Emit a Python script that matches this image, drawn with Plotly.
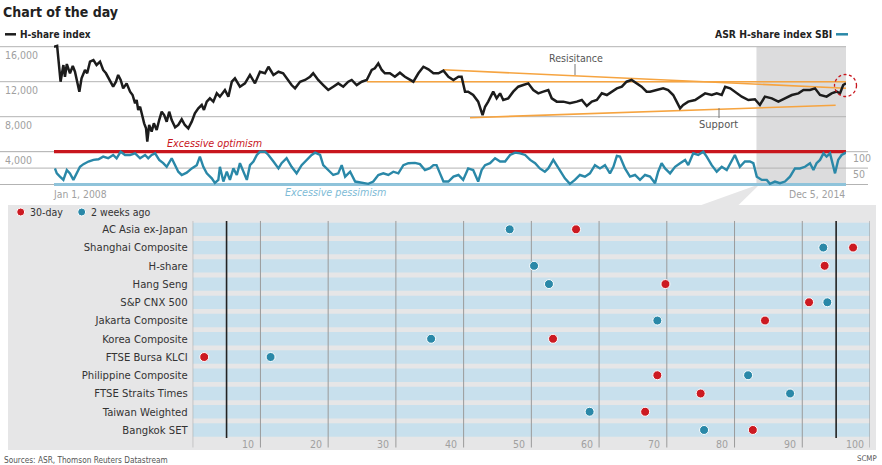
import pandas as pd
import plotly.graph_objects as go

# ---------------- DATA ----------------
start_date = "2008-01-01"
end_date = "2014-12-05"

# H-share index, days since Jan 1, 2008 and index level
hshare_days = [0,10,21,30,35,41,51,60,67,74,
               81,88,99,106,115,126,136,147,157,166,
               179,189,198,205,213,221,232,243,251,259,
               264,269,275,283,288,294,298,304,312,319,
               328,336,344,352,360,368,376,387,397,408,
               418,429,440,450,461,472,479,488,498,509,
               520,530,546,557,568,578,594,610,626,642,
               658,674,685,701,717,732,743,759,770,786,
               802,818,828,844,860,876,892,908,924,940,
               951,967,983,999,1015,1025,1036,1047,1057,1073,
               1089,1105,1121,1137,1148,1164,1180,1196,1212,1228,
               1244,1260,1276,1292,1302,1313,1323,1339,1355,1369,
               1377,1387,1403,1414,1425,1435,1451,1467,1483,1499,
               1515,1531,1547,1563,1579,1590,1606,1627,1648,1670,
               1686,1702,1718,1734,1750,1766,1782,1798,1814,1829,
               1845,1861,1877,1893,1904,1925,1946,1962,1978,1989,
               2000,2010,2026,2048,2064,2080,2101,2117,2133,2144,
               2160,2175,2197,2218,2239,2255,2271,2293,2314,2335,
               2357,2378,2394,2415,2431,2447,2468,2484,2500,2511,
               2521,2530]
hshare_values = [16000,16100,12000,13900,12570,14020,12960,13800,13140,11800,
                 10860,12390,13340,12960,14290,14480,13910,14290,13340,12960,
                 12000,11430,12000,12770,12200,11240,11810,10860,10480,9530,
                 9910,8770,9140,7810,7240,6670,5140,7050,6290,7240,
                 6480,7620,8570,8190,7430,8570,7620,6790,7050,7700,
                 7050,6670,7430,8380,8960,9340,8770,9720,10100,9720,
                 10670,10290,11050,10290,12000,12390,11430,11810,12770,11810,
                 13140,12960,13710,12770,13140,12960,12390,11620,11240,12000,
                 12200,12570,12960,12200,11620,11050,11430,11810,11430,12000,
                 12200,11620,12000,12200,13340,13530,14100,13340,12960,12960,
                 12570,13030,12570,12270,12000,12960,13710,13410,12960,12960,
                 13260,12570,12200,12570,12570,10860,10860,10480,9720,8190,
                 9140,9720,10860,10100,10670,9910,10100,10860,11430,11620,
                 11810,11050,10670,10860,11050,10100,9720,9720,9530,9720,
                 9910,9220,9720,9910,10670,10480,10860,11240,11430,12000,
                 12200,11810,11430,10860,10860,11050,11240,11050,10480,9720,
                 8960,9340,9720,9910,10290,10670,10480,10670,10480,11430,
                 11240,10860,10290,9910,9990,9340,10290,10100,9720,10100,
                 10480,10670,11050,11050,11240,10480,10290,10670,10860,10670,
                 11620,11810]

# ASR H-share index SBI (0-100)
sbi_days = [3,9,19,30,41,51,62,73,83,94,
            110,126,142,157,173,189,200,213,227,243,
            259,275,291,301,312,323,336,349,360,376,
            387,397,408,424,440,456,466,477,488,504,
            514,525,530,541,552,562,573,584,594,605,
            616,626,637,648,658,674,685,701,717,727,
            743,759,775,791,807,823,834,850,860,876,
            892,908,919,930,946,962,983,1004,1020,1036,
            1052,1068,1084,1100,1116,1132,1153,1169,1185,1201,
            1212,1222,1233,1244,1260,1276,1292,1307,1323,1339,
            1355,1366,1377,1393,1409,1425,1441,1457,1473,1489,
            1505,1521,1537,1552,1568,1579,1595,1606,1617,1632,
            1648,1664,1680,1696,1712,1728,1744,1760,1776,1787,
            1798,1808,1824,1840,1856,1872,1888,1904,1920,1930,
            1941,1952,1968,1984,2000,2016,2026,2042,2058,2074,
            2085,2101,2117,2133,2149,2165,2175,2191,2207,2223,
            2234,2245,2261,2277,2287,2303,2319,2335,2351,2367,
            2383,2399,2415,2426,2436,2447,2458,2468,2479,2495,
            2505,2516,2530]
sbi_values = [49,34,24,14,44,34,14,34,54,62,
              70,75,77,85,80,90,80,100,90,90,
              95,80,90,80,90,95,75,65,54,80,
              59,39,29,36,49,59,85,54,34,19,
              5,14,54,9,39,14,49,29,65,39,
              14,59,70,90,100,100,90,70,49,65,
              80,54,34,59,75,90,97,90,59,44,
              29,34,59,24,39,9,5,2,9,29,
              34,29,39,34,59,65,66,62,44,50,
              59,59,34,9,9,24,29,14,49,44,
              9,44,59,65,80,70,70,90,97,95,
              90,75,65,49,39,49,75,59,39,19,
              2,14,29,24,34,59,49,59,34,54,
              87,85,49,24,29,14,29,24,4,39,
              65,49,34,54,65,75,59,95,90,100,
              85,59,39,54,44,75,90,54,70,70,
              65,24,14,14,2,9,4,9,24,49,
              49,54,65,44,65,75,95,85,95,34,
              75,90,97]

# trend lines (days since start, index level)
resistance_days = [1243, 2530]
resistance_values = [13360, 11257]
flat_days = [1000, 2530]
flat_values = [12000, 12000]
support_days = [1329, 2497]
support_values = [7886, 9303]

shaded_period = ["2014-02-22", "2014-12-05"]
hshare_ticks = [16000, 12000, 8000, 4000]
sbi_ticks = [100, 50]
sbi_levels = [0, 50, 100]

# bottom panel
markets = ["AC Asia ex-Japan", "Shanghai Composite", "H-share", "Hang Seng",
           "S&P CNX 500", "Jakarta Composite", "Korea Composite", "FTSE Bursa KLCI",
           "Philippine Composite", "FTSE Straits Times", "Taiwan Weighted", "Bangkok SET"]
sbi_30day = [56.6, 97.5, 93.3, 69.8, 91.0, 84.5, 53.2, 1.7, 68.6, 75.0, 66.8, 82.7]
sbi_2weeks = [46.8, 93.1, 50.4, 52.6, 93.7, 68.6, 35.2, 11.5, 82.0, 88.2, 58.6, 75.5]
bottom_ticks = [10, 20, 30, 40, 50, 60, 70, 80, 90, 100]
bottom_grid = [0, 10, 20, 30, 40, 50, 60, 70, 80, 90, 100]
thresholds = [5, 95]

# ---------------- STYLE ----------------
W, H = 882, 465
def px(x): return x / W
def py(y): return 1 - y / H

FONT = "DejaVu Sans Condensed, DejaVu Sans, sans-serif"
BLACK = "#1c1c1c"
TEAL = "#2a88a8"
RED = "#c8161d"
LBLUE = "#8fc3da"
ORANGE = "#f6a440"
GRID = "#b3b3b3"
LABEL = "#a0a0a0"
BOX = "#e6e6e7"
BAND = "#c8e0ed"
SHADE = "#dcdcdd"

start = pd.Timestamp(start_date)
end = pd.Timestamp(end_date)
def to_dates(days):
    return [start + pd.Timedelta(days=int(d)) for d in days]

fig = go.Figure()

# trend lines
for dd, vv in [(resistance_days, resistance_values), (flat_days, flat_values), (support_days, support_values)]:
    fig.add_trace(go.Scatter(x=to_dates(dd), y=vv, mode="lines", line=dict(color=ORANGE, width=1.6),
                             xaxis="x", yaxis="y", hoverinfo="skip", showlegend=False))

fig.add_trace(go.Scatter(x=to_dates(hshare_days), y=hshare_values, mode="lines", name="H-share index",
                         line=dict(color=BLACK, width=2.5), xaxis="x", yaxis="y", showlegend=False))
fig.add_trace(go.Scatter(x=to_dates(sbi_days), y=sbi_values, mode="lines", name="ASR H-share index SBI",
                         line=dict(color=TEAL, width=2.4), xaxis="x", yaxis="y2", showlegend=False))

# bottom: bands
idx = list(range(len(markets)))
fig.add_trace(go.Bar(x=[100] * len(markets), y=idx, orientation="h", width=0.73, base=0,
                     marker=dict(color=BAND, line=dict(width=0)), xaxis="x3", yaxis="y3",
                     hoverinfo="skip", showlegend=False))
# bottom: gridlines as trace (between bands and dots)
gx, gy = [], []
for g in bottom_grid:
    gx += [g, g, None]
    gy += [-0.46, 11.5, None]
fig.add_trace(go.Scatter(x=gx, y=gy, mode="lines", line=dict(color="#9a9a9a", width=1),
                         xaxis="x3", yaxis="y3", hoverinfo="skip", showlegend=False))
tx, ty = [], []
for t in thresholds:
    tx += [t, t, None]
    ty += [-0.46, 11.44, None]
fig.add_trace(go.Scatter(x=tx, y=ty, mode="lines", line=dict(color="#222222", width=1.6),
                         xaxis="x3", yaxis="y3", hoverinfo="skip", showlegend=False))

fig.add_trace(go.Scatter(x=sbi_2weeks, y=idx, mode="markers", name="2 weeks ago",
                         marker=dict(color=TEAL, size=9, line=dict(color="white", width=1)),
                         xaxis="x3", yaxis="y3", cliponaxis=False, showlegend=False))
fig.add_trace(go.Scatter(x=sbi_30day, y=idx, mode="markers", name="30-day",
                         marker=dict(color="#cc1a22", size=9, line=dict(color="white", width=1)),
                         xaxis="x3", yaxis="y3", cliponaxis=False, showlegend=False))

shapes = []
# bottom grey box and wedge
shapes.append(dict(type="rect", xref="paper", yref="paper", x0=px(8), x1=px(876), y0=py(450), y1=py(205),
                   fillcolor=BOX, line=dict(width=0), layer="below"))
shapes.append(dict(type="path", xref="paper", yref="paper",
                   path=f"M {px(760)} {py(184)} L {px(700)} {py(205.5)} L {px(738)} {py(205.5)} Z",
                   fillcolor=BOX, line=dict(width=0), layer="below"))
# shaded recent period
shapes.append(dict(type="rect", xref="x", yref="paper", x0=shaded_period[0], x1=shaded_period[1],
                   y0=py(184.5), y1=py(46.7), fillcolor=SHADE, line=dict(width=0), layer="below"))
# H-share gridlines
for v in hshare_ticks:
    shapes.append(dict(type="line", xref="paper", yref="y", x0=0, x1=px(846), y0=v, y1=v,
                       line=dict(color=GRID, width=1), layer="below"))
# SBI gridlines
for v in sbi_levels:
    shapes.append(dict(type="line", xref="paper", yref="y2", x0=0, x1=px(868), y0=v, y1=v,
                       line=dict(color=GRID, width=1), layer="below"))
shapes.append(dict(type="line", xref="x", yref="y2", x0=start, x1=end, y0=100, y1=100,
                   line=dict(color=RED, width=3.2), layer="below"))
shapes.append(dict(type="line", xref="x", yref="y2", x0=start, x1=end, y0=0, y1=0,
                   line=dict(color=LBLUE, width=3.2), layer="below"))
# bottom gridline extension into label row
for g in bottom_grid:
    shapes.append(dict(type="line", xref="x3", yref="paper", x0=g, x1=g, y0=py(447.5), y1=py(439),
                       line=dict(color="#9a9a9a", width=1), layer="above"))
# leader lines
shapes.append(dict(type="line", xref="paper", yref="paper", x0=px(575), x1=px(575), y0=py(64), y1=py(75),
                   line=dict(color="#777777", width=1)))
shapes.append(dict(type="line", xref="paper", yref="paper", x0=px(719), x1=px(719), y0=py(108), y1=py(118),
                   line=dict(color="#777777", width=1)))
# red dashed circle highlighting the latest reading (paper coords so it is not clipped)
shapes.append(dict(type="circle", xref="paper", yref="paper",
                   x0=px(834.5), x1=px(856.5), y0=py(96.5), y1=py(74.5),
                   line=dict(color=RED, width=1.3, dash="3px,2.5px")))
# legend dashes (top)
shapes.append(dict(type="line", xref="paper", yref="paper", x0=px(5), x1=px(16), y0=py(34.3), y1=py(34.3),
                   line=dict(color=BLACK, width=2.5)))
shapes.append(dict(type="line", xref="paper", yref="paper", x0=px(836), x1=px(848), y0=py(34.3), y1=py(34.3),
                   line=dict(color=TEAL, width=2.5)))
# legend dots (bottom)
for cx, col in [(20.7, "#cc1a22"), (81.7, TEAL)]:
    shapes.append(dict(type="circle", xref="paper", yref="paper", x0=px(cx - 4), x1=px(cx + 4),
                       y0=py(212 + 4), y1=py(212 - 4), fillcolor=col, line=dict(color="white", width=1)))

ann = []
def A(text, x, y, size=12, color="#333333", xanchor="left", yanchor="middle", **kw):
    d = dict(text=text, xref="paper", yref="paper", x=px(x), y=py(y), showarrow=False,
             font=dict(family=FONT, size=size, color=color), xanchor=xanchor, yanchor=yanchor)
    d.update(kw)
    ann.append(d)

A("<b>Chart of the day</b>", 1, 12, size=14, color="#222222")
A("<b>H-share index</b>", 18, 34, size=10, color="#222222")
A("<b>ASR H-share index SBI</b>", 834, 34, size=10.3, color="#222222", xanchor="right")
for v in hshare_ticks:
    ann.append(dict(text=f"{v:,}", xref="paper", yref="y", x=px(3), y=v, yshift=-8.5, showarrow=False,
                    xanchor="left", yanchor="middle", font=dict(family=FONT, size=10.5, color=LABEL)))
for v in sbi_ticks:
    ann.append(dict(text=str(v), xref="paper", yref="y2", x=px(851), y=v, yshift=-6, showarrow=False,
                    xanchor="left", yanchor="middle", font=dict(family=FONT, size=10.5, color=LABEL)))
A("Jan 1, 2008", 51, 193.5, size=10.3, color=LABEL)
A("Dec 5, 2014", 847, 193.5, size=10.3, color=LABEL, xanchor="right")
A("Resisitance", 576, 58, size=10.6, color="#555555", xanchor="center")
A("Support", 718, 125, size=11, color="#555555", xanchor="center")
A("<i>Excessive optimism</i>", 214, 143.3, size=10.7, color=RED, xanchor="center")
A("<i>Excessive pessimism</i>", 335, 192.3, size=10.7, color="#7dbbd6", xanchor="center")
A("30-day", 28, 212, size=10.5, color="#333333")
A("2 weeks ago", 89, 212, size=10.5, color="#333333")
for t in bottom_ticks:
    ann.append(dict(text=str(t), xref="x3", yref="paper", x=t, y=py(444), xshift=-4.5, showarrow=False,
                    xanchor="right", yanchor="middle", font=dict(family=FONT, size=10.5, color=LABEL)))
A("Sources: ASR, Thomson Reuters Datastream", 2, 459.5, size=8.2, color="#555555")
A("SCMP", 879, 458.5, size=7.8, color="#555555", xanchor="right")

fig.update_layout(
    width=W, height=H, autosize=False, margin=dict(l=0, r=0, t=0, b=0),
    paper_bgcolor="white", plot_bgcolor="rgba(0,0,0,0)", showlegend=False,
    font=dict(family=FONT),
    xaxis=dict(domain=[px(54), px(846)], range=[start, end], anchor="y", visible=False),
    yaxis=dict(domain=[py(151.7), py(40)], range=[4000, 16766], anchor="x", visible=False),
    yaxis2=dict(domain=[py(186), py(150)], range=[-4.57, 105.18], anchor="x", visible=False),
    xaxis3=dict(domain=[px(192.7), px(870)], range=[0, 100], anchor="y3", visible=False),
    yaxis3=dict(domain=[py(439.1), py(220.2)], range=[11.5, -0.5], anchor="x3",
                tickmode="array", tickvals=idx, ticktext=markets, showgrid=False, zeroline=False,
                showline=False, ticks="", ticklabelstandoff=4,
                tickfont=dict(family=FONT, size=11.2, color="#333333")),
    shapes=shapes, annotations=ann,
)

fig.write_html("out.html", config={"displayModeBar": False},
               post_script="document.body.style.margin='0px';document.body.style.padding='0px';")
